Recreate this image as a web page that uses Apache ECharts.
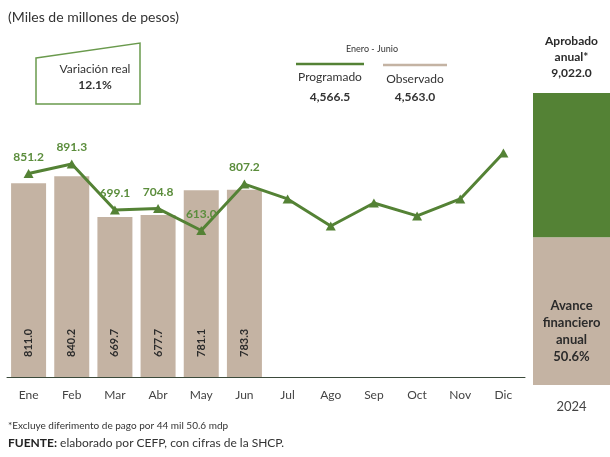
<!DOCTYPE html>
<html>
<head>
<meta charset="utf-8">
<script src="https://cdn.jsdelivr.net/npm/echarts@6/dist/echarts.min.js"></script>
<style>
  html, body { margin: 0; padding: 0; background: #fff; }
  #main { width: 610px; height: 457px; }
</style>
</head>
<body>
<div id="main"></div>
<script>
// datos (miles de millones de pesos)
var meses = ['Ene', 'Feb', 'Mar', 'Abr', 'May', 'Jun', 'Jul', 'Ago', 'Sep', 'Oct', 'Nov', 'Dic'];
var observado = [811.0, 840.2, 669.7, 677.7, 781.1, 783.3];
var programado = [851.2, 891.3, 699.1, 704.8, 613.0, 807.2, 745, 632, 728, 674, 745, 937];
var anio = ['2024'];
var aprobadoAnual = 9022.0;
var totalProgramado = 4566.5;
var totalObservado = 4563.0;
var variacionReal = '12.1%';

var verde = '#548235';
var verdeTexto = '#5b8d3c';
var tan = '#c4b3a3';
var fuente = 'Lato';

function fmt(v) {
  return v.toLocaleString('en-US', { minimumFractionDigits: 1, maximumFractionDigits: 1 });
}

var avance = totalObservado / aprobadoAnual * 100;

var myChart = echarts.init(document.getElementById('main'));

var option = {
  animation: false,
  textStyle: { fontFamily: fuente },
  grid: [
    { left: 7, width: 518, top: 138, bottom: 80 },
    { left: 533, width: 77, top: 93, bottom: 72 }
  ],
  xAxis: [
    {
      type: 'category',
      gridIndex: 0,
      data: meses,
      axisTick: { show: false },
      axisLine: { lineStyle: { color: '#3b4a3b', width: 1 } },
      axisLabel: { color: '#444', fontSize: 12, margin: 12, fontFamily: fuente }
    },
    {
      type: 'category',
      gridIndex: 1,
      data: anio,
      axisTick: { show: false },
      axisLine: { show: false },
      axisLabel: { color: '#444', fontSize: 13, margin: 15, fontFamily: fuente }
    }
  ],
  yAxis: [
    { type: 'value', gridIndex: 0, min: 0, max: 1000, show: false },
    { type: 'value', gridIndex: 1, min: 0, max: aprobadoAnual, show: false }
  ],
  series: [
    {
      name: 'Observado',
      type: 'bar',
      xAxisIndex: 0,
      yAxisIndex: 0,
      barWidth: 35,
      data: observado,
      itemStyle: { color: tan },
      label: {
        show: true,
        position: 'insideBottom',
        distance: 20,
        rotate: 90,
        align: 'left',
        verticalAlign: 'middle',
        color: '#2b2b2b',
        fontWeight: 'bold',
        fontSize: 11,
        formatter: function (p) { return p.value.toFixed(1); }
      },
      z: 1
    },
    {
      name: 'Programado',
      type: 'line',
      xAxisIndex: 0,
      yAxisIndex: 0,
      data: programado,
      symbol: 'triangle',
      symbolSize: [10, 9],
      itemStyle: { color: verde },
      lineStyle: { color: verde, width: 3 },
      label: {
        show: true,
        position: 'top',
        distance: 6,
        color: verdeTexto,
        fontWeight: 'bold',
        fontSize: 12,
        formatter: function (p) {
          return p.dataIndex < observado.length ? p.value.toFixed(1) : '';
        }
      },
      z: 3
    },
    {
      name: 'Avance',
      type: 'bar',
      xAxisIndex: 1,
      yAxisIndex: 1,
      stack: 'anual',
      barWidth: '100%',
      data: [totalObservado],
      itemStyle: { color: tan },
      label: {
        show: true,
        position: 'insideBottom',
        distance: 20,
        color: '#2b2b2b',
        fontWeight: 'bold',
        fontSize: 13,
        lineHeight: 17,
        formatter: function () {
          return 'Avance\nfinanciero\nanual\n' + avance.toFixed(1) + '%';
        }
      }
    },
    {
      name: 'Aprobado',
      type: 'bar',
      xAxisIndex: 1,
      yAxisIndex: 1,
      stack: 'anual',
      barWidth: '100%',
      data: [aprobadoAnual - totalObservado],
      itemStyle: { color: verde, borderColor: '#47702c', borderWidth: 0 },
      label: {
        show: true,
        position: 'top',
        distance: 12,
        color: '#2b2b2b',
        fontWeight: 'bold',
        fontSize: 12,
        lineHeight: 16,
        formatter: function () {
          return 'Aprobado\nanual*\n' + fmt(aprobadoAnual);
        }
      }
    }
  ],
  graphic: [
    {
      type: 'text', left: 8, top: 10,
      style: { text: '(Miles de millones de pesos)', fontSize: 14, fill: '#333', fontFamily: fuente }
    },
    {
      type: 'polygon',
      shape: { points: [[36, 58], [140, 43], [140, 104], [36, 104]] },
      style: { fill: 'none', stroke: '#6a9a4d', lineWidth: 1.5 }
    },
    {
      type: 'text', x: 95, y: 63,
      style: { text: 'Variación real', fontSize: 12, fill: '#333', align: 'center', fontFamily: fuente }
    },
    {
      type: 'text', x: 95, y: 79,
      style: { text: variacionReal, fontSize: 12, fontWeight: 'bold', fill: '#333', align: 'center', fontFamily: fuente }
    },
    {
      type: 'text', x: 372, y: 45,
      style: { text: 'Enero - Junio', fontSize: 9, fill: '#333', align: 'center', fontFamily: fuente }
    },
    {
      type: 'line',
      shape: { x1: 296, y1: 64, x2: 364, y2: 64 },
      style: { stroke: verde, lineWidth: 2.5 }
    },
    {
      type: 'line',
      shape: { x1: 383, y1: 65, x2: 447, y2: 65 },
      style: { stroke: tan, lineWidth: 2.5 }
    },
    {
      type: 'text', x: 330, y: 71,
      style: { text: 'Programado', fontSize: 12, fill: '#333', align: 'center', fontFamily: fuente }
    },
    {
      type: 'text', x: 415, y: 73,
      style: { text: 'Observado', fontSize: 12, fill: '#333', align: 'center', fontFamily: fuente }
    },
    {
      type: 'text', x: 330, y: 91,
      style: { text: fmt(totalProgramado), fontSize: 12, fontWeight: 'bold', fill: '#333', align: 'center', fontFamily: fuente }
    },
    {
      type: 'text', x: 415, y: 91,
      style: { text: fmt(totalObservado), fontSize: 12, fontWeight: 'bold', fill: '#333', align: 'center', fontFamily: fuente }
    },
    {
      type: 'text', left: 8, top: 421,
      style: { text: '*Excluye diferimento de pago por 44 mil 50.6 mdp', fontSize: 10, fill: '#333', fontFamily: fuente }
    },
    {
      type: 'text', left: 8, top: 437,
      style: {
        text: '{b|FUENTE:} elaborado por CEFP, con cifras de la SHCP.',
        fontSize: 12, fill: '#333', fontFamily: fuente,
        rich: { b: { fontWeight: 'bold', fontSize: 12, fill: '#222', fontFamily: fuente } }
      }
    }
  ]
};

myChart.setOption(option);
</script>
</body>
</html>
